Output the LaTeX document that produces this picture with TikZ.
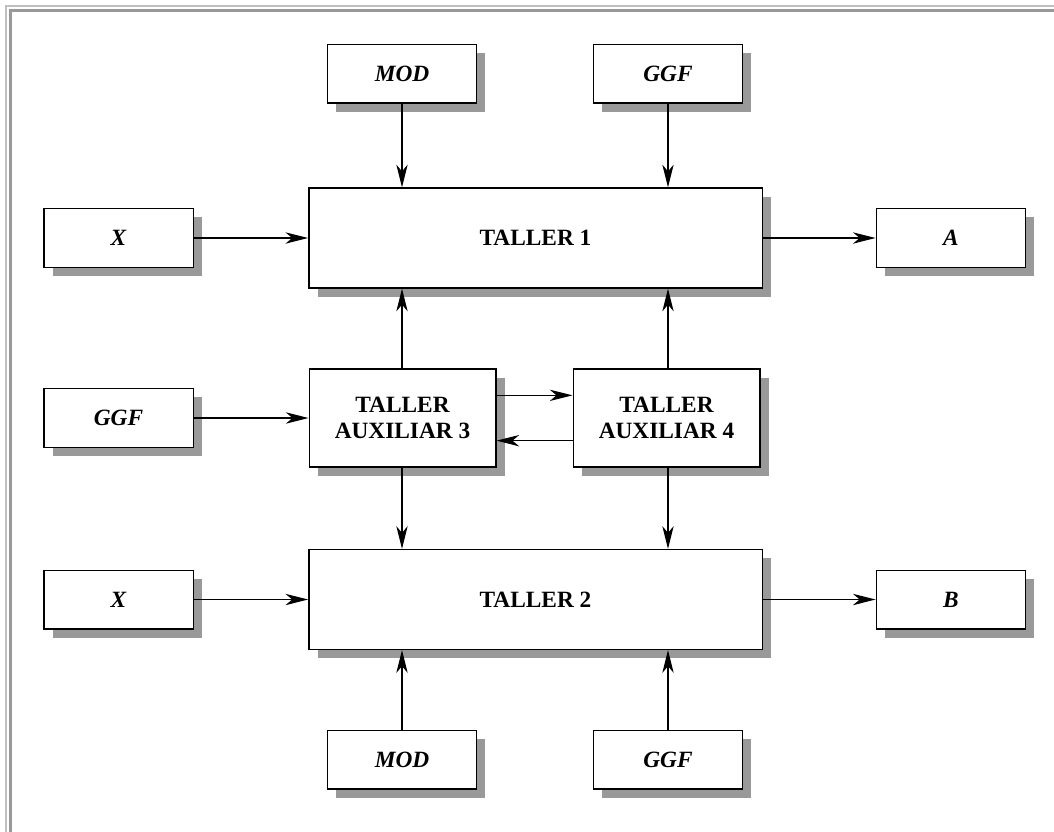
\documentclass[tikz,border=0pt]{standalone}
\usepackage{fontspec}
\setmainfont{Liberation Serif}
\usetikzlibrary{arrows.meta,positioning,shadows}
\newcommand\boxfont{\fontsize{17.5}{20}\selectfont\bfseries}

\begin{document}
\begin{tikzpicture}[x=0.75pt, y=-0.75pt,
  >={Stealth[length=17pt, width=8.5pt, inset=5pt]},
  box/.style={draw, line width=1pt, fill=white, align=center, inner sep=0pt,
    drop shadow={shadow xshift=6.5pt, shadow yshift=-6.5pt, fill=black!40, opacity=1}},
  inbox/.style={box, minimum width=112pt, minimum height=44pt, font=\boxfont\itshape},
  taller/.style={box, minimum width=340pt, minimum height=75pt, font=\boxfont},
  aux/.style={box, minimum width=140pt, minimum height=73.5pt, font=\boxfont},
  flow/.style={->, line width=1pt}]
\useasboundingbox (0,0) rectangle (1054,832);
% frame
\draw[black!25, line width=1pt] (6,832) |- (1054,6);
\draw[black!40, line width=2.2pt] (10.3,832) |- (1054,10.3);

% main workshops
\node[taller] (t1) at (535.5,238) {TALLER 1};
\node[taller] (t2) at (535.5,599.5) {TALLER 2};
\node[aux] (aux3) at (402.5,418) {TALLER\\AUXILIAR 3};
\node[aux] (aux4) at (666.5,418) {TALLER\\AUXILIAR 4};

% inputs and outputs
\node[inbox] (mod1) at (402,73.5) {MOD};
\node[inbox] (ggf1) at (668,73.5) {GGF};
\node[inbox] (x1) at (118.5,238) {X};
\node[inbox] (a) at (951,238) {A};
\node[inbox] (ggf3) at (118.5,418) {GGF};
\node[inbox] (x2) at (118.5,599.5) {X};
\node[inbox] (b) at (951,599.5) {B};
\node[inbox] (mod2) at (402,759.5) {MOD};
\node[inbox] (ggf2) at (668,759.5) {GGF};

% connectors
\draw[flow] (mod1) -- (mod1 |- t1.north);
\draw[flow] (ggf1) -- (ggf1 |- t1.north);
\draw[flow] (x1) -- (t1);
\draw[flow] (t1) -- (a);
\draw[flow] (aux3.north -| mod1) -- (mod1 |- t1.south);
\draw[flow] (aux4.north -| ggf1) -- (ggf1 |- t1.south);
\draw[flow] (ggf3) -- (aux3);
\draw[flow] ([yshift=17pt]aux3.east) -- ([yshift=17pt]aux4.west);
\draw[flow] ([yshift=-17pt]aux4.west) -- ([yshift=-17pt]aux3.east);
\draw[flow] (aux3.south -| mod1) -- (mod1 |- t2.north);
\draw[flow] (aux4.south -| ggf1) -- (ggf1 |- t2.north);
\draw[flow] (x2) -- (t2);
\draw[flow] (t2) -- (b);
\draw[flow] (mod2) -- (mod2 |- t2.south);
\draw[flow] (ggf2) -- (ggf2 |- t2.south);
\end{tikzpicture}
\end{document}
